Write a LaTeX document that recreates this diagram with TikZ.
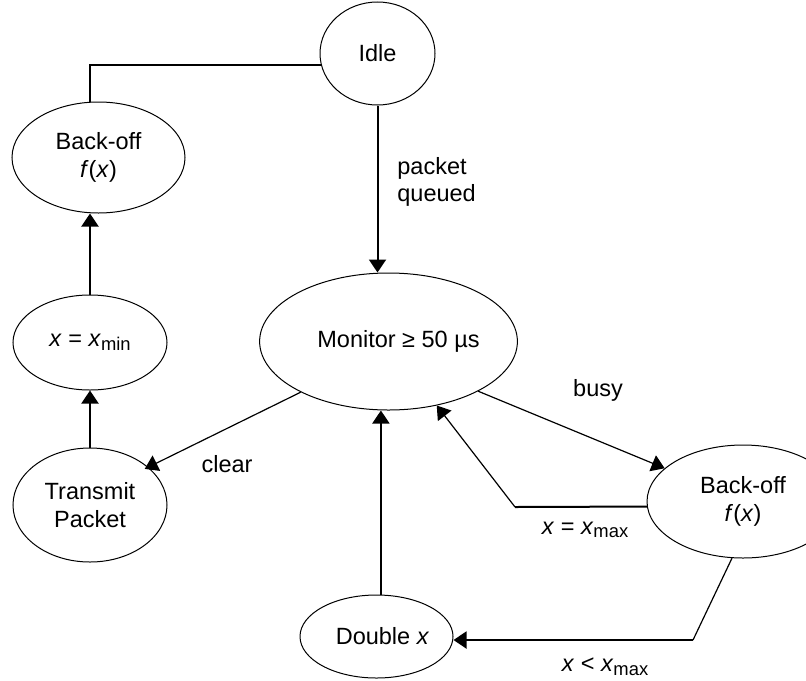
\documentclass[tikz,border=0pt]{standalone}
\usepackage{fontspec}
\setmainfont{Liberation Sans}
\usetikzlibrary{shapes.geometric,arrows.meta}
\newcommand\sbs[1]{\raisebox{-0.3ex}{\fontsize{9.2}{9.2}\selectfont #1}}
\tikzset{
  txt/.style={font=\fontsize{11.75}{13.8}\selectfont, inner sep=0pt, align=center},
  state/.style={txt, ellipse, draw, line width=0.5pt},
  tip/.style={-{Triangle[length=6.5pt,width=8.5pt]}},
  conn/.style={line width=1pt, tip},
  dconn/.style={line width=0.6pt, tip},
  plain/.style={line width=1pt},
  dplain/.style={line width=0.6pt}
}
\begin{document}
\begin{tikzpicture}[x=0.5pt,y=-0.5pt]
\useasboundingbox (0,0) rectangle (806,680);
\clip (0,0) rectangle (806,680);
% states
\node[state, minimum width=57.5pt, minimum height=51.5pt] (idle) at (377.5,53.5) {Idle};
\node[state, minimum width=86.5pt, minimum height=55.5pt] (bl) at (98.5,157.5) {Back-off\\\textit{f}(\textit{x})};
\node[state, minimum width=77pt, minimum height=47.5pt] (xm) at (90,342.5) {\textit{x} = \textit{x}\sbs{min}};
\node[state, minimum width=77pt, minimum height=57pt] (tr) at (90,505) {Transmit\\Packet};
\node[state, minimum width=123.5pt, minimum height=68.5pt] (mon) at (388.5,341.5) {\hspace*{10pt}Monitor ≥ 50 µs};
\node[state, minimum width=96pt, minimum height=56.5pt] (br) at (743,501.5) {Back-off\\\textit{f}(\textit{x})};
\node[state, minimum width=76.5pt, minimum height=41.5pt] (dbl) at (376.5,636.5) {\hspace*{6pt}Double \textit{x}};
% bend points
\coordinate (b1) at (515,507);
\coordinate (b2) at (693,640);
% connectors
\draw[conn] (idle.south) -- (idle.south |- mon.north);
\draw[plain] (idle.192) -| (xm.north |- bl.north);
\draw[conn] (xm.north) -- (xm.north |- bl.south);
\draw[conn] (tr.north) -- (xm.south);
\draw[dconn, shorten >=-2pt] (mon.210) -- (tr.33);
\draw[dconn] (mon.331) -- (br.157);
\draw[plain] (br.183) -- (b1);
\draw[dconn] (b1) -- (mon.307);
\draw[dplain] (br.259) -- (b2);
\draw[conn] (b2) -- (b2 -| dbl.east);
\draw[conn] (dbl.84) -- (dbl.84 |- mon.south);
% labels
\node[txt, align=left, anchor=west] (lpq) at (397,182) {packet\\queued};
\node[txt] (lbusy) at (598,390) {busy};
\node[txt] (lclear) at (227,464) {clear};
\node[txt] (leq) at (585,530) {\textit{x} = \textit{x}\sbs{max}};
\node[txt] (llt) at (605,667) {\textit{x} < \textit{x}\sbs{max}};
\end{tikzpicture}
\end{document}
